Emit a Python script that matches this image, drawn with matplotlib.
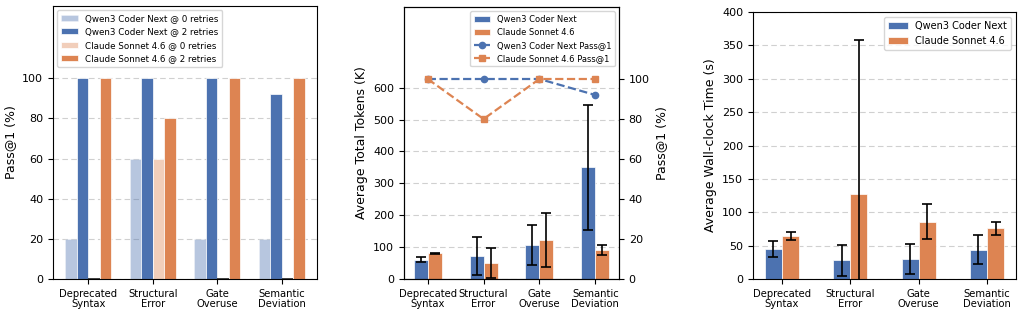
import matplotlib.pyplot as plt
import numpy as np

categories = ['Deprecated\nSyntax', 'Structural\nError', 'Gate\nOveruse', 'Semantic\nDeviation']

# pass@1 (%) by retries
qwen_pass_0 = [20, 60, 20, 20]
qwen_pass_2 = [100, 100, 100, 92]
claude_pass_0 = [0, 60, 0, 0]
claude_pass_2 = [100, 80, 100, 100]

# average total tokens (K), mean and error
qwen_tokens = [61, 72, 106, 350]
qwen_tokens_err = [9, 59, 62, 196]
claude_tokens = [80, 50, 123, 92]
claude_tokens_err = [3, 48, 84, 16]

# average wall-clock time (s)
qwen_time = [45, 28, 30, 44]
qwen_time_err = [12, 23, 22, 22]
claude_time = [64, 128, 86, 76]
claude_time_err = [6, 230, 26, 10]

BLUE = '#4C72B0'
ORANGE = '#DD8452'

fig = plt.figure(figsize=(10.25, 3.16), dpi=100)
ax1 = fig.add_axes([53 / 1025, 37 / 316, 264 / 1025, 273 / 316])
ax2 = fig.add_axes([404 / 1025, 37 / 316, 215 / 1025, 272 / 316])
ax3 = fig.add_axes([753 / 1025, 37 / 316, 263 / 1025, 267 / 316])

x = np.arange(len(categories))


def mark_zeros(ax, pos, vals, width):
    # outline zero-height bars so they remain visible
    edges = ['#222222' if v == 0 else 'none' for v in vals]
    ax.bar(pos, vals, width, fill=False, edgecolor=edges, linewidth=1.2)


# panel 1: pass@1 by retries
w = 0.18
ax1.bar(x - 1.5 * w, qwen_pass_0, w, color=BLUE, alpha=0.4, edgecolor='white', linewidth=0.5,
        label='Qwen3 Coder Next @ 0 retries')
ax1.bar(x - 0.5 * w, qwen_pass_2, w, color=BLUE, edgecolor='white', linewidth=0.5,
        label='Qwen3 Coder Next @ 2 retries')
ax1.bar(x + 0.5 * w, claude_pass_0, w, color='#f1ceba', edgecolor='white', linewidth=0.5,
        label='Claude Sonnet 4.6 @ 0 retries')
ax1.bar(x + 1.5 * w, claude_pass_2, w, color=ORANGE, edgecolor='white', linewidth=0.5,
        label='Claude Sonnet 4.6 @ 2 retries')
mark_zeros(ax1, x + 0.5 * w, claude_pass_0, w)
ax1.set_ylim(0, 136)
ax1.set_yticks(range(0, 101, 20))
ax1.set_ylabel('Pass@1 (%)', fontsize=9)
ax1.legend(loc='upper left', fontsize=6.3)

# panel 2: tokens + pass@1 lines
w = 0.25
ekw = dict(ecolor='black', capsize=3.5, error_kw=dict(elinewidth=1.2, capthick=1.2))
b1 = ax2.bar(x - w / 2, qwen_tokens, w, yerr=qwen_tokens_err, color=BLUE, edgecolor='white',
             linewidth=0.5, label='Qwen3 Coder Next', **ekw)
b2 = ax2.bar(x + w / 2, claude_tokens, w, yerr=claude_tokens_err, color=ORANGE, edgecolor='white',
             linewidth=0.5, label='Claude Sonnet 4.6', **ekw)
ax2.set_ylim(0, 853)
ax2.set_yticks(range(0, 601, 100))
ax2.set_ylabel('Average Total Tokens (K)', fontsize=9)
ax2t = ax2.twinx()
l1, = ax2t.plot(x, qwen_pass_2, '--o', color=BLUE, lw=1.6, ms=4.5, label='Qwen3 Coder Next Pass@1')
l2, = ax2t.plot(x, claude_pass_2, '--s', color=ORANGE, lw=1.6, ms=4.5, label='Claude Sonnet 4.6 Pass@1')
ax2t.set_ylim(0, 136)
ax2t.set_yticks(range(0, 101, 20))
ax2t.set_ylabel('Pass@1 (%)', fontsize=9)
ax2t.tick_params(axis='y', labelsize=8)
ax2.legend([b1, b2, l1, l2], [b1.get_label(), b2.get_label(), l1.get_label(), l2.get_label()],
           loc='upper right', fontsize=6.0)

# panel 3: wall-clock time
ax3.bar(x - w / 2, qwen_time, w, yerr=qwen_time_err, color=BLUE, edgecolor='white',
        linewidth=0.5, label='Qwen3 Coder Next', **ekw)
ax3.bar(x + w / 2, claude_time, w, yerr=claude_time_err, color=ORANGE, edgecolor='white',
        linewidth=0.5, label='Claude Sonnet 4.6', **ekw)
ax3.set_ylim(0, 400)
ax3.set_yticks(range(0, 401, 50))
ax3.set_ylabel('Average Wall-clock Time (s)', fontsize=9)
ax3.legend(loc='upper right', fontsize=7.0)

for ax in (ax1, ax2, ax3):
    ax.set_xticks(x)
    ax.set_xticklabels(categories, fontsize=7.2, linespacing=1.0)
    ax.tick_params(axis='y', labelsize=8)
    ax.yaxis.grid(True, linestyle=(0, (5, 3)), color='#d0d0d0', linewidth=0.8)
    ax.set_axisbelow(True)

fig.savefig('out.png', dpi=100)
